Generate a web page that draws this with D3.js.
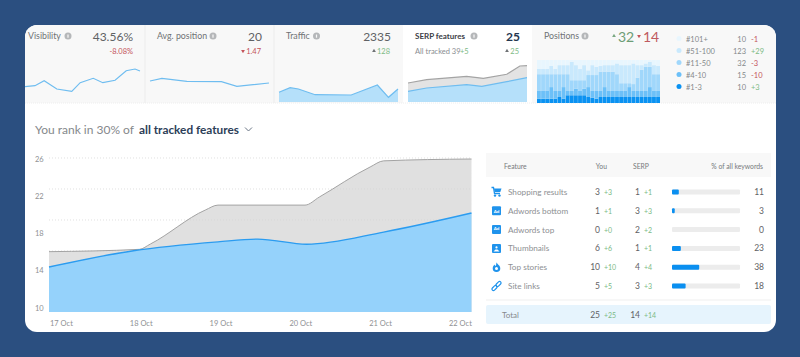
<!DOCTYPE html>
<html>
<head>
<meta charset="utf-8">
<script src="https://cdn.jsdelivr.net/npm/d3@7"></script>
<style>
html, body { margin: 0; padding: 0; background: #2b4f80; }
svg { display: block; font-family: Lato, "Open Sans", sans-serif; }
</style>
</head>
<body>
<div id="chart"></div>
<script>
// main chart
var dateLabels = ["17 Oct", "18 Oct", "19 Oct", "20 Oct", "21 Oct", "22 Oct"];
var yTicks = [26, 22, 18, 14, 10];
var allDays = [0, 1.07, 1.2, 1.85, 2, 3.03, 3.2, 3.8, 3.96, 5];
var allValues = [16.05, 16.3, 16.87, 20.52, 21.05, 21.05, 21.92, 25.14, 25.8, 26];
var youDays = [0, 1, 2, 2.47, 3.05, 3.96, 5];
var youValues = [14.4, 16.15, 17.1, 17.4, 16.85, 18.15, 20.2];

// sparklines, days 0-30, values in 0-100 of the panel
var visDays = [0, 2.6, 5, 8.3, 12.2, 14.4, 17.8, 20.3, 23.5, 26.4, 28.7, 30];
var visValues = [30.6, 32.6, 42.6, 26, 21.4, 38.6, 47.4, 38.6, 43.4, 62.6, 66, 62];
var avgDays = [0, 3, 9.3, 18, 21.9, 26, 30];
var avgValues = [42, 47.4, 41.4, 40.6, 31.4, 34.6, 38];
var trafficDays = [0, 2.8, 4.9, 9.1, 18.2, 24.8, 27.6, 30];
var trafficValues = [19.4, 28.6, 26, 14.6, 14, 34, 9.4, 26];
var serpAllDays = [0, 4.7, 14.8, 19, 24.9, 28.2, 30];
var serpAllValues = [38, 44.6, 51.4, 47.4, 55.4, 72, 72.6];
var serpYouDays = [0, 4.7, 14.8, 18.6, 24.9, 30];
var serpYouValues = [21.4, 28, 34.6, 31.4, 40.6, 48.6];

// positions stack, cumulative share of keywords per day
var posTop3 = [10,10,10,10,10,14,10,18,18,18,18,18,14,12,10,14,14,14,14,14,14,14,14,14,14,14,14,14,14,14];
var posTop10 = [28,28,28,37,28,28,37,28,28,33,28,33,37,28,28,28,37,28,28,28,28,28,37,28,28,28,28,37,28,28];
var posTop50 = [67,67,67,67,67,67,67,67,53,53,53,53,65,65,65,73,73,73,73,67,46,46,46,44,59,77,84,84,67,67];
var posTop100 = [79,79,79,86,79,88,88,88,96,88,79,88,76,88,84,86,88,88,88,92,88,88,88,92,88,88,92,96,88,86];

var trackerRows = [
    ["#101+", "10", "-1"],
    ["#51-100", "123", "+29"],
    ["#11-50", "32", "-3"],
    ["#4-10", "15", "-10"],
    ["#1-3", "10", "+3"]
];

// feature table
var features = ["Shopping results", "Adwords bottom", "Adwords top", "Thumbnails", "Top stories", "Site links"];
var youCounts = [3, 1, 0, 6, 10, 5];
var serpCounts = [1, 3, 2, 1, 4, 3];
var keywordShare = [11, 3, 0, 23, 38, 18];
var keywordBar = [10, 4, 0, 13, 40, 20];

var GREEN = "#7cba85", RED = "#c4535a";
var BLUE_LINE = "#2b9cf0", BLUE_AREA = "#95d2fb", ICON = "#1f93ec";
var posColors = ["#0a92f2", "#6cc0f8", "#a0d7fb", "#c9e9fd", "#e8f6fe"];

var svg = d3.select("#chart").append("svg").attr("width", 800).attr("height", 357);

svg.append("rect").attr("width", 800).attr("height", 357).attr("fill", "#2b4f80");

var clip = svg.append("clipPath").attr("id", "card");
clip.append("rect").attr("x", 25).attr("y", 25).attr("width", 751).attr("height", 307).attr("rx", 12);

var card = svg.append("g").attr("clip-path", "url(#card)");
card.append("rect").attr("x", 25).attr("y", 25).attr("width", 751).attr("height", 307).attr("fill", "#fff");
card.append("rect").attr("x", 25).attr("y", 25).attr("width", 751).attr("height", 78).attr("fill", "#f8f8f8");
card.append("rect").attr("x", 403).attr("y", 25).attr("width", 129).attr("height", 78).attr("fill", "#fff");

[145, 274].forEach(function (x) {
    card.append("line").attr("x1", x).attr("x2", x).attr("y1", 25).attr("y2", 103)
        .attr("stroke", "#ececec");
});
card.append("line").attr("x1", 25).attr("x2", 776).attr("y1", 103).attr("y2", 103)
    .attr("stroke", "#eeeeee").attr("stroke-dasharray", "1,1");

function label(g, x, y, str, size, color, anchor, weight) {
    return g.append("text").attr("x", x).attr("y", y).text(str)
        .attr("font-size", size).attr("fill", color)
        .attr("text-anchor", anchor || "start")
        .attr("font-weight", weight || 400);
}

function infoDot(g, x, y) {
    g.append("circle").attr("cx", x).attr("cy", y).attr("r", 3.5).attr("fill", "#b5b7b9");
    g.append("rect").attr("x", x - 0.6).attr("y", y - 1.5).attr("width", 1.2).attr("height", 3.2).attr("fill", "#f8f8f8");
}

// small up/down triangle in front of a change figure
function arrow(g, x, y, up, color) {
    var sym = d3.symbol().type(d3.symbolTriangle).size(6);
    g.append("path").attr("d", sym())
        .attr("transform", "translate(" + x + "," + y + ")" + (up ? "" : " rotate(180)"))
        .attr("fill", color);
}

function sparkScales(x0, x1) {
    return {
        x: d3.scaleLinear().domain([0, 30]).range([x0, x1]),
        y: d3.scaleLinear().domain([0, 100]).range([102, 52])
    };
}

function sparkLine(g, s, days, values, color) {
    var line = d3.line().x(function (d) { return s.x(d[0]); }).y(function (d) { return s.y(d[1]); });
    g.append("path").attr("d", line(d3.zip(days, values)))
        .attr("fill", "none").attr("stroke", color).attr("stroke-width", 1.2);
}

function sparkArea(g, s, days, values, color) {
    var area = d3.area().x(function (d) { return s.x(d[0]); }).y0(s.y(0)).y1(function (d) { return s.y(d[1]); });
    g.append("path").attr("d", area(d3.zip(days, values))).attr("fill", color);
}

// top tiles
label(card, 28, 39, "Visibility", 8.8, "#6f7275");
infoDot(card, 68, 36);
label(card, 133, 41, "43.56%", 12, "#5f6265", "end");
label(card, 133, 54, "-8.08%", 7.5, RED, "end");
var visS = sparkScales(25, 140);
sparkLine(card, visS, visDays, visValues, "#6fbdf0");

label(card, 157, 39, "Avg. position", 8.8, "#6f7275");
infoDot(card, 213, 36);
label(card, 262, 41, "20", 12, "#5f6265", "end");
label(card, 261, 54, "1.47", 7.5, RED, "end");
arrow(card, 243, 51, false, RED);
var avgS = sparkScales(150, 269);
sparkLine(card, avgS, avgDays, avgValues, "#6fbdf0");

label(card, 286, 39, "Traffic", 8.8, "#6f7275");
infoDot(card, 316.5, 36);
label(card, 391, 41, "2335", 12, "#5f6265", "end");
label(card, 390, 54, "128", 7.5, GREEN, "end");
arrow(card, 374, 51, true, "#6f7275");
var trafficS = sparkScales(279, 398);
sparkArea(card, trafficS, trafficDays, trafficValues, "#b5e0fa");
sparkLine(card, trafficS, trafficDays, trafficValues, "#6fbdf0");

label(card, 415, 39, "SERP features", 8, "#3d4046", "start", 700);
infoDot(card, 474, 36);
label(card, 520, 41, "25", 12, "#24364f", "end", 700);
label(card, 415, 54, "All tracked 39", 7.5, "#8a8d91");
label(card, 460, 54, "+5", 7.5, GREEN);
label(card, 519, 54, "25", 7.5, GREEN, "end");
arrow(card, 507, 51, true, "#6f7275");
var serpS = sparkScales(408, 527);
sparkArea(card, serpS, serpAllDays, serpAllValues, "#e3e3e3");
sparkLine(card, serpS, serpAllDays, serpAllValues, "#a4a4a4");
sparkArea(card, serpS, serpYouDays, serpYouValues, "#b5e0fa");
sparkLine(card, serpS, serpYouDays, serpYouValues, "#6fbdf0");

label(card, 544, 39, "Positions", 8.8, "#6f7275");
infoDot(card, 585, 36);
arrow(card, 614, 36, true, "#7aa882");
label(card, 618, 42, "32", 14, "#6d9d76");
arrow(card, 639, 36, false, RED);
label(card, 643, 42, "14", 14, "#bf5a60");

// positions stacked bars
var posX = d3.scaleBand().domain(d3.range(posTop3.length)).range([537, 660]).paddingInner(0.06);
var posY = d3.scaleLinear().domain([0, 100]).range([103, 60]);
var posG = card.append("g");
posTop3.forEach(function (v, i) {
    var edges = [0, v, posTop10[i], posTop50[i], posTop100[i], 100];
    d3.range(5).forEach(function (k) {
        posG.append("rect")
            .attr("x", posX(i)).attr("width", posX.bandwidth())
            .attr("y", posY(edges[k + 1]))
            .attr("height", Math.max(0, posY(edges[k]) - posY(edges[k + 1])))
            .attr("fill", posColors[k]);
    });
});

var legendY = d3.scalePoint().domain(d3.range(5)).range([39, 87]);
var legendColors = posColors.slice().reverse();
trackerRows.forEach(function (r, i) {
    var y = legendY(i);
    card.append("circle").attr("cx", 679).attr("cy", y - 0.5).attr("r", 2.5).attr("fill", legendColors[i]);
    label(card, 686, y + 2.5, r[0], 7.5, "#85888b");
    label(card, 746, y + 2.5, r[1], 7.5, "#85888b", "end");
    label(card, 751, y + 2.5, r[2], 7.5, r[2][0] == "+" ? GREEN : RED);
});

// heading
label(card, 35, 134, "You rank in 30% of", 12, "#85888b");
label(card, 139, 134, "all tracked features", 11.8, "#2c3e58", "start", 700);
card.append("path").attr("d", d3.line()([[245, 127.5], [248.5, 131], [252, 127.5]]))
    .attr("fill", "none").attr("stroke", "#6a7585").attr("stroke-width", 1);

// main area chart
var mainX = d3.scaleLinear().domain([0, 5]).range([49, 471.5]);
var mainY = d3.scaleLinear().domain([10, 26]).range([308, 159]);
var baseY = 312;
var gridY = d3.scaleLinear().domain([0, 5]).range([313, 158]);

var area = d3.area().curve(d3.curveMonotoneX)
    .x(function (d) { return mainX(d[0]); }).y0(baseY).y1(function (d) { return mainY(d[1]); });
var line = d3.line().curve(d3.curveMonotoneX)
    .x(function (d) { return mainX(d[0]); }).y(function (d) { return mainY(d[1]); });

card.append("path").attr("d", area(d3.zip(allDays, allValues))).attr("fill", "#e0e0e0");
d3.range(1, 6).forEach(function (i) {
    card.append("line").attr("x1", 49).attr("x2", 471.5).attr("y1", gridY(i)).attr("y2", gridY(i))
        .attr("stroke", "#d3d3d3").attr("stroke-dasharray", "1,2").attr("stroke-width", 0.7);
});
card.append("path").attr("d", line(d3.zip(allDays, allValues)))
    .attr("fill", "none").attr("stroke", "#a3a3a3").attr("stroke-width", 1);
card.append("path").attr("d", area(d3.zip(youDays, youValues))).attr("fill", BLUE_AREA);
card.append("path").attr("d", line(d3.zip(youDays, youValues)))
    .attr("fill", "none").attr("stroke", BLUE_LINE).attr("stroke-width", 1.4);

yTicks.forEach(function (t) {
    label(card, 35, mainY(t) + 2.5, t, 7.5, "#8e9093");
});
var labelX = d3.scalePoint().domain(dateLabels).range([50, 449]);
dateLabels.forEach(function (d) {
    label(card, labelX(d), 326, d, 7.5, "#8e9093");
});

// table
card.append("rect").attr("x", 486).attr("y", 153).attr("width", 285).attr("height", 24).attr("fill", "#f8f8f8");
label(card, 504, 169, "Feature", 6.8, "#77797c");
label(card, 607, 169, "You", 6.8, "#77797c", "end");
label(card, 633, 169, "SERP", 6.8, "#77797c");
label(card, 763, 169, "% of all keywords", 6.8, "#77797c", "end");

var rowY = d3.scalePoint().domain(features).range([192, 286]);
var barX = d3.scaleLinear().domain([0, 100]).range([672, 740]);

// feature icons, one small drawing per row centred on the row
function drawIcon(i, y) {
    var g = card.append("g").attr("transform", "translate(496.5," + y + ")");
    if (i == 0) {
        g.append("path").attr("d", "M-5,-4.5H-3L-2,1.5H3.5").attr("fill", "none").attr("stroke", ICON).attr("stroke-width", 1.3);
        g.append("path").attr("d", "M-2.5,-3.5H5L3.8,0H-2Z").attr("fill", ICON);
        g.append("circle").attr("cx", -1.5).attr("cy", 3.6).attr("r", 1.2).attr("fill", ICON);
        g.append("circle").attr("cx", 3).attr("cy", 3.6).attr("r", 1.2).attr("fill", ICON);
    } else if (i == 1 || i == 2) {
        g.append("rect").attr("x", -4.5).attr("y", -4.5).attr("width", 9).attr("height", 9).attr("rx", 1).attr("fill", ICON);
        g.append("text").attr("y", i == 1 ? 2 : 0).attr("text-anchor", "middle")
            .attr("font-size", 4.5).attr("font-weight", 700).attr("fill", "#fff").text("Ad");
    } else if (i == 3) {
        g.append("rect").attr("x", -4.5).attr("y", -4.5).attr("width", 9).attr("height", 9).attr("rx", 1).attr("fill", ICON);
        g.append("circle").attr("cx", 0).attr("cy", -1).attr("r", 1.1).attr("fill", "#fff");
        g.append("path").attr("d", "M-3,3L-1,1L1,1L3,3Z").attr("fill", "#fff");
    } else if (i == 4) {
        g.append("path").attr("d", "M0,-5C0.5,-3 3.8,-2 3.8,1A3.8,3.8 0 0 1 -3.8,1C-3.8,-0.8 -2.6,-1.8 -2,-2.6C-1.6,-1.6 -1,-1.2 -0.6,-1.2C-0.2,-2.4 -0.4,-3.8 0,-5Z").attr("fill", ICON);
        g.append("circle").attr("cx", 0).attr("cy", 1.2).attr("r", 1.5).attr("fill", "#fff");
    } else {
        [[-2, 2], [2, -2]].forEach(function (p) {
            g.append("rect").attr("x", p[0] - 3).attr("y", p[1] - 1.5).attr("width", 6).attr("height", 3).attr("rx", 1.5)
                .attr("transform", "rotate(-45 " + p[0] + " " + p[1] + ")")
                .attr("fill", "none").attr("stroke", ICON).attr("stroke-width", 1.2);
        });
    }
}

features.forEach(function (f, i) {
    var y = rowY(f);
    drawIcon(i, y);
    label(card, 508, y + 3, f, 8.2, "#8e9093");
    label(card, 600, y + 3, youCounts[i], 8.5, "#5f6265", "end");
    label(card, 604, y + 3, "+" + youCounts[i], 7, GREEN);
    label(card, 640, y + 3, serpCounts[i], 8.5, "#5f6265", "end");
    label(card, 644, y + 3, "+" + serpCounts[i], 7, GREEN);
    card.append("rect").attr("x", barX(0)).attr("y", y - 2.5).attr("width", barX(100) - barX(0)).attr("height", 5)
        .attr("rx", 1).attr("fill", "#ececec");
    if (keywordBar[i] > 0) {
        card.append("rect").attr("x", barX(0)).attr("y", y - 2.5)
            .attr("width", barX(keywordBar[i]) - barX(0)).attr("height", 5)
            .attr("rx", 1).attr("fill", "#0a8ff0");
    }
    label(card, 764, y + 3, keywordShare[i], 8.5, "#5f6265", "end");
});

card.append("line").attr("x1", 486).attr("x2", 771).attr("y1", 300).attr("y2", 300).attr("stroke", "#efefef");
card.append("rect").attr("x", 486).attr("y", 305).attr("width", 285).attr("height", 19).attr("rx", 2).attr("fill", "#e6f4fd");
label(card, 502, 318, "Total", 8, "#85888b");
label(card, 600, 318, "25", 8.5, "#5f6265", "end");
label(card, 604, 318, "+25", 7, GREEN);
label(card, 640, 318, "14", 8.5, "#5f6265", "end");
label(card, 644, 318, "+14", 7, GREEN);
</script>
</body>
</html>
